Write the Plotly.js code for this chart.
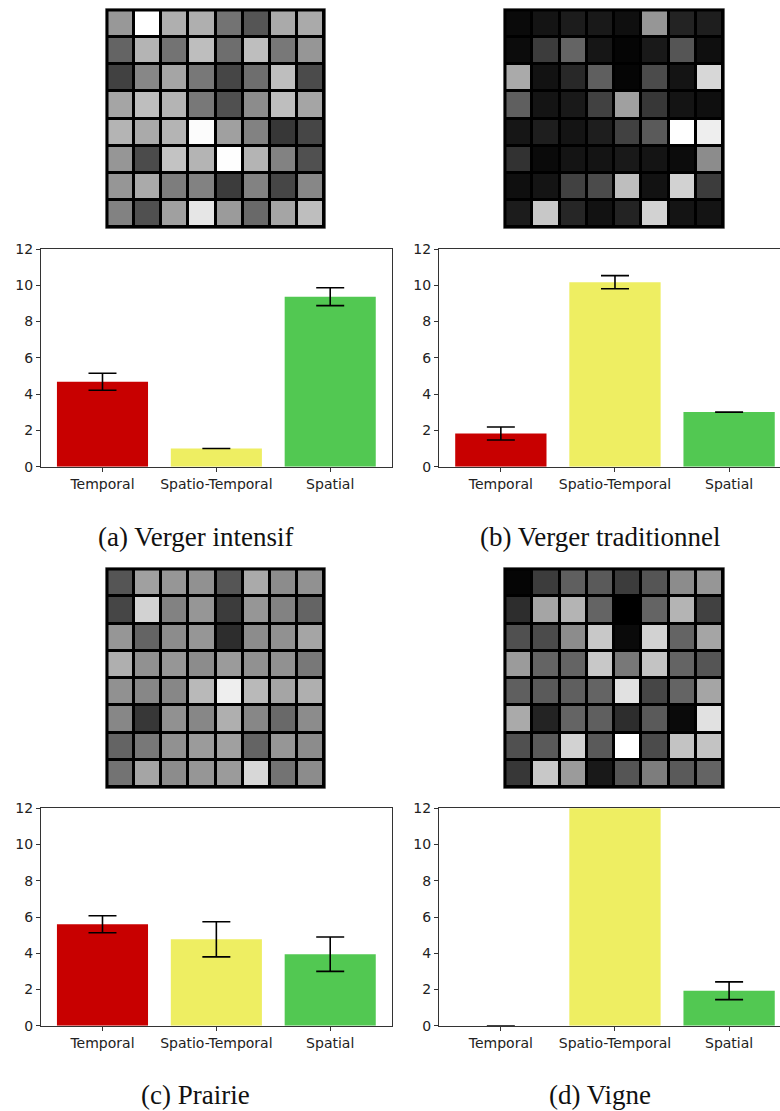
<!DOCTYPE html>
<html>
<head>
<meta charset="utf-8">
<script src="https://cdn.plot.ly/plotly-3.0.1.min.js"></script>
<style>html,body{margin:0;padding:0;background:#fff;}#chart{width:780px;height:1111px;}</style>
</head>
<body>
<div id="chart"></div>
<script>
// ---- data ----
const categories = ['Temporal', 'Spatio-Temporal', 'Spatial'];
const barColors = ['#c80000', '#eeee62', '#52c852'];
const yTicks = [0, 2, 4, 6, 8, 10, 12];

const valuesA = [4.68, 1.0, 9.37];
const errorsA = [0.47, 0, 0.49];
const valuesB = [1.83, 10.17, 3.01];
const errorsB = [0.36, 0.36, 0];
const valuesC = [5.6, 4.77, 3.95];
const errorsC = [0.47, 0.97, 0.95];
const valuesD = [0, 14.5, 1.93];
const errorsD = [0, 0, 0.49];

const captions = ['(a) Verger intensif', '(b) Verger traditionnel', '(c) Prairie', '(d) Vigne'];

const gridA = [
  [152, 255, 175, 175, 115, 85, 170, 170],
  [100, 180, 115, 190, 110, 190, 120, 150],
  [65, 135, 165, 120, 70, 110, 190, 75],
  [165, 190, 180, 120, 80, 140, 190, 165],
  [180, 170, 180, 252, 160, 130, 55, 70],
  [150, 75, 195, 180, 254, 180, 130, 80],
  [150, 170, 125, 130, 60, 130, 70, 135],
  [130, 80, 160, 230, 155, 105, 165, 190]
];
const gridB = [
  [10, 20, 28, 25, 15, 150, 35, 30],
  [12, 60, 100, 22, 5, 25, 85, 15],
  [170, 18, 40, 95, 5, 75, 20, 215],
  [95, 20, 25, 65, 160, 55, 20, 15],
  [22, 30, 20, 30, 65, 90, 255, 238],
  [50, 10, 20, 20, 25, 20, 12, 140],
  [15, 20, 65, 75, 190, 18, 210, 60],
  [28, 200, 38, 18, 35, 210, 20, 20]
];
const gridC = [
  [85, 160, 150, 145, 85, 170, 140, 145],
  [70, 210, 130, 150, 60, 150, 130, 100],
  [150, 100, 140, 150, 45, 140, 145, 165],
  [175, 145, 150, 140, 155, 145, 145, 120],
  [145, 135, 135, 185, 238, 185, 165, 175],
  [135, 55, 145, 135, 175, 135, 105, 140],
  [100, 120, 145, 155, 160, 100, 150, 140],
  [115, 165, 140, 150, 155, 215, 115, 140]
];
const gridD = [
  [5, 60, 95, 90, 60, 85, 140, 150],
  [45, 165, 180, 100, 0, 100, 180, 65],
  [80, 75, 140, 200, 10, 210, 100, 165],
  [155, 100, 100, 200, 120, 195, 100, 85],
  [95, 90, 95, 100, 225, 70, 100, 165],
  [170, 35, 100, 95, 45, 90, 10, 225],
  [80, 90, 210, 90, 255, 75, 195, 195],
  [55, 200, 155, 25, 85, 125, 90, 100]
];

// ---- layout geometry (pixels) ----
const W = 780, H = 1111;
const px = v => v / W;
const py = v => 1 - v / H;

const heatBoxes = [
  {x0: 107, x1: 324, y0: 10, y1: 227},
  {x0: 505, x1: 723, y0: 10, y1: 227},
  {x0: 107, x1: 324, y0: 569, y1: 787},
  {x0: 505, x1: 723, y0: 569, y1: 787}
];
const barBoxes = [
  {x0: 41, x1: 391.7, y0: 249, y1: 466.7, range: [-0.54, 2.54], right: true},
  {x0: 439, x1: 780, y0: 249, y1: 466.7, range: [-0.542, 2.446], right: false},
  {x0: 41, x1: 391.7, y0: 808.3, y1: 1025.7, range: [-0.54, 2.54], right: true},
  {x0: 439, x1: 780, y0: 808.3, y1: 1025.7, range: [-0.542, 2.446], right: false}
];
const captionPos = [{x: 195, y: 537}, {x: 600, y: 537}, {x: 195, y: 1095}, {x: 600, y: 1095}];

const grids = [gridA, gridB, gridC, gridD];
const values = [valuesA, valuesB, valuesC, valuesD];
const errors = [errorsA, errorsB, errorsC, errorsD];

const tickFont = {family: 'DejaVu Sans', size: 14, color: '#222'};

const data = [];
const layout = {
  width: W, height: H,
  margin: {l: 0, r: 0, t: 0, b: 0},
  paper_bgcolor: '#ffffff',
  plot_bgcolor: 'rgba(0,0,0,0)',
  showlegend: false,
  shapes: [],
  annotations: [],
  font: tickFont
};

grids.forEach((g, i) => {
  const n = i + 1;
  const b = heatBoxes[i];
  const s = n === 1 ? '' : String(n);
  data.push({
    type: 'heatmap',
    z: g,
    xaxis: 'x' + s,
    yaxis: 'y' + s,
    colorscale: [[0, '#000000'], [1, '#ffffff']],
    zmin: 0, zmax: 255,
    showscale: false,
    xgap: 3, ygap: 3,
    hoverinfo: 'skip'
  });
  layout['xaxis' + s] = {
    domain: [px(b.x0), px(b.x1)], range: [-0.5, 7.5], visible: false, fixedrange: true,
    anchor: 'y' + s
  };
  layout['yaxis' + s] = {
    domain: [py(b.y1), py(b.y0)], range: [7.5, -0.5], visible: false, fixedrange: true,
    anchor: 'x' + s
  };
  layout.shapes.push({
    type: 'rect', xref: 'paper', yref: 'paper', layer: 'below',
    x0: px(b.x0 - 1.5), x1: px(b.x1 + 1.5), y0: py(b.y1 + 1.5), y1: py(b.y0 - 1.5),
    line: {color: '#cfcfcf', width: 1}, fillcolor: '#000000'
  });
  layout.shapes.push({
    type: 'rect', xref: 'paper', yref: 'paper', layer: 'above',
    x0: px(b.x0), x1: px(b.x1), y0: py(b.y1), y1: py(b.y0),
    line: {color: '#000000', width: 3}, fillcolor: 'rgba(0,0,0,0)'
  });
});

values.forEach((v, i) => {
  const n = i + 5;
  const b = barBoxes[i];
  data.push({
    type: 'bar',
    x: [0, 1, 2],
    y: v,
    width: 0.8,
    xaxis: 'x' + n, yaxis: 'y' + n,
    marker: {color: barColors, line: {width: 0}},
    error_y: {type: 'data', array: errors[i], visible: true, color: '#000000', thickness: 1.6, width: 14},
    hoverinfo: 'skip'
  });
  layout['xaxis' + n] = {
    domain: [px(b.x0), px(b.x1)], range: b.range, anchor: 'y' + n, fixedrange: true,
    tickmode: 'array', tickvals: [0, 1, 2], ticktext: categories,
    ticks: 'outside', ticklen: 4, tickwidth: 1, tickcolor: '#333',
    showline: true, mirror: true, linecolor: '#333', linewidth: 1,
    showgrid: false, zeroline: false,
    tickfont: tickFont
  };
  layout['yaxis' + n] = {
    domain: [py(b.y1), py(b.y0)], range: [0, 12], anchor: 'x' + n, fixedrange: true,
    tickmode: 'array', tickvals: yTicks, ticktext: yTicks.map(String),
    ticks: 'outside', ticklen: 4, tickwidth: 1, tickcolor: '#333',
    showline: true, mirror: b.right ? true : false, linecolor: '#333', linewidth: 1,
    showgrid: false, zeroline: false,
    tickfont: tickFont
  };
});

captions.forEach((c, i) => {
  layout.annotations.push({
    text: c, xref: 'paper', yref: 'paper',
    x: px(captionPos[i].x), y: py(captionPos[i].y),
    xanchor: 'center', yanchor: 'middle', showarrow: false,
    font: {family: 'Liberation Serif', size: 27, color: '#111'}
  });
});

Plotly.newPlot('chart', data, layout, {staticPlot: true, displayModeBar: false});
</script>
</body>
</html>
